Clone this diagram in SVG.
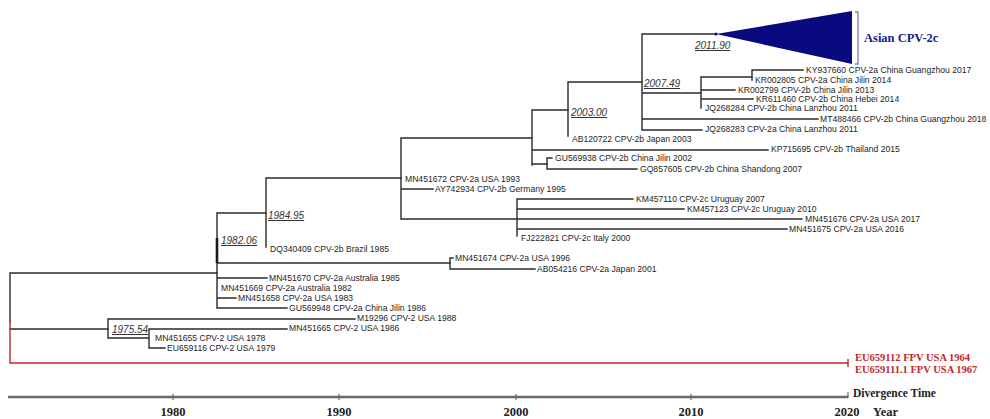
<svg xmlns="http://www.w3.org/2000/svg" width="990" height="419" viewBox="0 0 990 419">
<style>
.br{fill:none;stroke:#2b2b2b;stroke-width:1.4;stroke-linecap:square}
.red{fill:none;stroke:#c0272d;stroke-width:1.4}
.ax{fill:none;stroke:#6a6a6a;stroke-width:2.5}
.tk{fill:none;stroke:#6a6a6a;stroke-width:1.2}
.lf{font-family:"Liberation Sans",Arial,sans-serif;font-size:8.6px;fill:#1e1e1e}
.nd{font-family:"Liberation Sans",Arial,sans-serif;font-size:10px;font-style:italic;fill:#333;text-decoration:underline}
.rl{font-family:"Liberation Serif","Times New Roman",serif;font-size:10.5px;font-weight:bold;fill:#c0272d}
.yr{font-family:"Liberation Serif","Times New Roman",serif;font-size:12.5px;font-weight:bold;fill:#222}
</style>
<rect width="990" height="419" fill="#fff"/>
<g id="connectors">
<path class="br" d="M10,273 V322 M10,273 H217 M10,329 H108"/>
<path class="red" d="M10,322 V363 H848 M848,359 V367"/>
<path class="br" d="M108,319 V338 M108,319 H355 M108,338 H149 M149,329 V348 M149,329 H287 M149,348 H165"/>
<path class="br" d="M217,213 V308 M217,213 H266 M217,263 H450 M217,278 H267 M217,298 H236 M217,308 H287"/>
<path fill="none" stroke="#1a1a1a" stroke-width="2.6" d="M217,238 V263"/>
<path class="br" d="M450,258 V269 M450,258 H453 M450,269 H535"/>
<path class="br" d="M266,178 V247 M266,178 H401"/>
<path class="br" d="M401,138 V219 M401,138 H532 M401,189 H433 M401,219 H802"/>
<path class="br" d="M517,199 V236 M517,199 H633 M517,209 H684 M517,229 H787"/>
<path class="br" d="M532,110 V165 M532,110 H568 M532,150 H768 M532,164 H547"/>
<path class="br" d="M547,158 V169 M547,158 H552 M547,169 H637"/>
<path class="br" d="M568,82 V136 M568,82 H642"/>
<path class="br" d="M642,34 V130 M642,34 H716 M642,93 H701 M642,119 H818 M642,130 H702"/>
<path class="br" d="M701,77 V108 M701,77 H752 M701,90 H735 M701,99 H753"/>
<path class="br" d="M752,70 V80 M752,70 H803"/>
<path class="ax" d="M8,397 H848"/>
<path class="tk" d="M173,394 V400 M339,394 V400 M516,394 V400 M691,394 V400 M848,392 V398"/>
</g>
<g id="asian-cpv-2c">
<polygon points="716,34 852,11 852,64" fill="#0a0a80"/>
<circle cx="716" cy="34" r="1.6" fill="#0a0a80"/>
<path d="M855,12 H858 V64 H855" fill="none" stroke="#7080b8" stroke-width="1.3"/>
<text x="864" y="42" font-family="'Liberation Serif','Times New Roman',serif" font-size="12.5" font-weight="bold" fill="#14208a">Asian CPV-2c</text>
</g>
<g id="node-2011-90"><text class="nd" x="695" y="49">2011.90</text></g>
<g id="node-2007-49"><text class="nd" x="644" y="87">2007.49</text></g>
<g id="node-2003-00"><text class="nd" x="571" y="116">2003.00</text></g>
<g id="node-1984-95"><text class="nd" x="268" y="219">1984.95</text></g>
<g id="node-1982-06"><text class="nd" x="221" y="244">1982.06</text></g>
<g id="node-1975-54"><text class="nd" x="112" y="333">1975.54</text></g>
<g id="leaves">
<g id="KY937660"><text class="lf" x="806" y="73">KY937660 CPV-2a China Guangzhou 2017</text></g>
<g id="KR002805"><text class="lf" x="755" y="83">KR002805 CPV-2a China Jilin 2014</text></g>
<g id="KR002799"><text class="lf" x="738" y="93">KR002799 CPV-2b China Jilin 2013</text></g>
<g id="KR611460"><text class="lf" x="756" y="102">KR611460 CPV-2b China Hebei 2014</text></g>
<g id="JQ268284"><text class="lf" x="705" y="111">JQ268284 CPV-2b China Lanzhou 2011</text></g>
<g id="MT488466"><text class="lf" x="820" y="122">MT488466 CPV-2b China Guangzhou 2018</text></g>
<g id="JQ268283"><text class="lf" x="705" y="132">JQ268283 CPV-2a China Lanzhou 2011</text></g>
<g id="AB120722"><text class="lf" x="572" y="142">AB120722 CPV-2b Japan 2003</text></g>
<g id="KP715695"><text class="lf" x="771" y="152">KP715695 CPV-2b Thailand 2015</text></g>
<g id="GU569938"><text class="lf" x="555" y="161">GU569938 CPV-2b China Jilin 2002</text></g>
<g id="GQ857605"><text class="lf" x="640" y="172">GQ857605 CPV-2b China Shandong 2007</text></g>
<g id="MN451672"><text class="lf" x="405" y="182">MN451672 CPV-2a USA 1993</text></g>
<g id="AY742934"><text class="lf" x="435" y="192">AY742934 CPV-2b Germany 1995</text></g>
<g id="KM457110"><text class="lf" x="636" y="202">KM457110 CPV-2c Uruguay 2007</text></g>
<g id="KM457123"><text class="lf" x="687" y="212">KM457123 CPV-2c Uruguay 2010</text></g>
<g id="MN451676"><text class="lf" x="805" y="222">MN451676 CPV-2a USA 2017</text></g>
<g id="MN451675"><text class="lf" x="789" y="232">MN451675 CPV-2a USA 2016</text></g>
<g id="FJ222821"><text class="lf" x="521" y="241">FJ222821 CPV-2c Italy 2000</text></g>
<g id="DQ340409"><text class="lf" x="270" y="252">DQ340409 CPV-2b Brazil 1985</text></g>
<g id="MN451674"><text class="lf" x="455" y="261">MN451674 CPV-2a USA 1996</text></g>
<g id="AB054216"><text class="lf" x="537" y="272">AB054216 CPV-2a Japan 2001</text></g>
<g id="MN451670"><text class="lf" x="269" y="281">MN451670 CPV-2a Australia 1985</text></g>
<g id="MN451669"><text class="lf" x="221" y="291">MN451669 CPV-2a Australia 1982</text></g>
<g id="MN451658"><text class="lf" x="238" y="301">MN451658 CPV-2a USA 1983</text></g>
<g id="GU569948"><text class="lf" x="289" y="311">GU569948 CPV-2a China Jilin 1986</text></g>
<g id="M19296"><text class="lf" x="357" y="321">M19296 CPV-2 USA 1988</text></g>
<g id="MN451665"><text class="lf" x="289" y="331">MN451665 CPV-2 USA 1986</text></g>
<g id="MN451655"><text class="lf" x="155" y="341">MN451655 CPV-2 USA 1978</text></g>
<g id="EU659116"><text class="lf" x="167" y="351">EU659116 CPV-2 USA 1979</text></g>
</g>
<g id="fpv-outgroup">
<text class="rl" x="855" y="361">EU659112 FPV USA 1964</text>
<text class="rl" x="855" y="373">EU659111.1 FPV USA 1967</text>
</g>
<g id="axis-labels">
<text x="853" y="397" font-family="'Liberation Serif','Times New Roman',serif" font-size="11.5" font-weight="bold" fill="#222">Divergence Time</text>
<text class="yr" x="173" y="416" text-anchor="middle">1980</text>
<text class="yr" x="339" y="416" text-anchor="middle">1990</text>
<text class="yr" x="516" y="416" text-anchor="middle">2000</text>
<text class="yr" x="691" y="416" text-anchor="middle">2010</text>
<text class="yr" x="847" y="416" text-anchor="middle">2020</text>
<text class="yr" x="873" y="416">Year</text>
</g>
</svg>
